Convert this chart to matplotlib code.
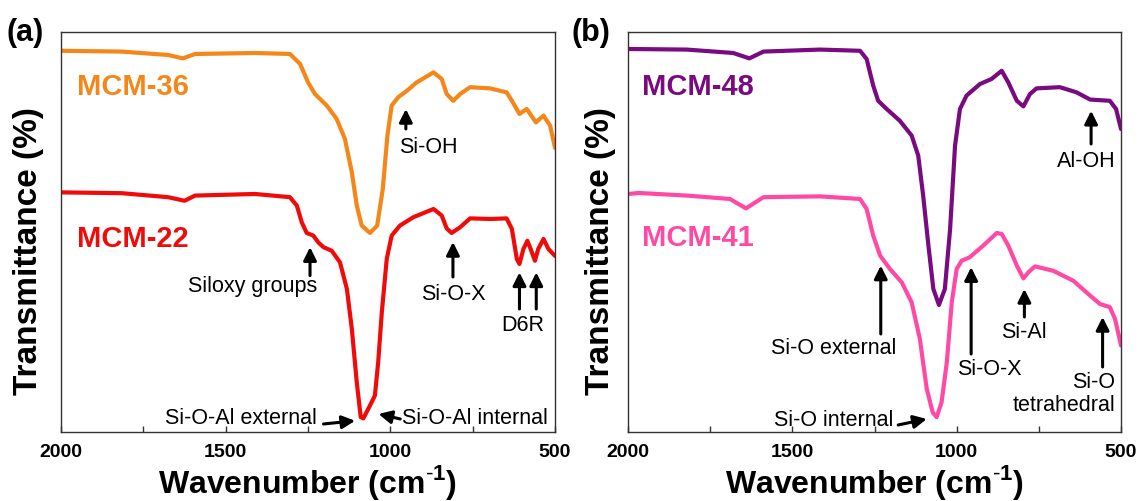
import matplotlib
matplotlib.use("Agg")
import matplotlib.pyplot as plt

plt.rcParams['font.family'] = ['Liberation Sans', 'DejaVu Sans']
plt.rcParams['mathtext.fontset'] = 'custom'
plt.rcParams['mathtext.rm'] = 'Liberation Sans'
plt.rcParams['mathtext.bf'] = 'Liberation Sans:bold'

# panel (a) spectra (wavenumber in cm-1, transmittance a.u.)
mcm36_wn = [2000, 1816, 1675, 1630, 1593, 1411, 1305, 1274, 1250, 1229, 1193, 1163, 1138, 1117,
            1102, 1087, 1062, 1040, 1023, 1009, 996, 976, 950, 920, 869, 844, 829, 809, 788, 758,
            697, 647, 631, 608, 586, 558, 535, 515, 500]
mcm36_t = [95.3, 95.1, 94.25, 93.4, 94.5, 94.75, 94.5, 92.0, 87.4, 84.5, 81.6, 78.25, 73.25, 64.9,
           56.6, 51.6, 49.75, 51.6, 60.75, 74.1, 81.6, 83.7, 85.3, 87.4, 89.9, 88.25, 84.5, 82.8,
           84.5, 86.2, 85.9, 84.9, 82.8, 79.5, 80.75, 77.4, 79.1, 76.6, 71.0]

mcm22_wn = [2000, 1816, 1675, 1625, 1593, 1411, 1305, 1284, 1269, 1254, 1234, 1219, 1203, 1178,
            1153, 1132, 1117, 1102, 1090, 1082, 1062, 1047, 1037, 1026, 1011, 996, 971, 930, 869,
            844, 829, 814, 788, 758, 697, 647, 631, 616, 608, 596, 584, 574, 561, 551, 535, 520, 500]
mcm22_t = [59.9, 59.7, 58.7, 57.8, 59.1, 59.5, 58.7, 56.6, 52.4, 49.75, 49.1, 47.4, 46.2, 45.3,
           42.4, 35.75, 25.75, 12.4, 3.7, 3.4, 6.6, 9.1, 17.4, 29.9, 43.25, 49.1, 51.6, 53.7, 55.75,
           54.1, 50.9, 49.75, 51.2, 53.4, 53.25, 53.4, 50.75, 43.25, 42.0, 45.75, 47.8, 45.75, 42.8,
           45.75, 48.25, 45.75, 44.0]

# panel (b) spectra
mcm48_wn = [2000, 1821, 1680, 1631, 1588, 1416, 1294, 1274, 1254, 1239, 1213, 1173, 1137, 1117,
            1102, 1086, 1071, 1054, 1036, 1020, 1005, 990, 970, 929, 894, 863, 843, 817, 797, 777,
            757, 686, 635, 594, 534, 515, 500]
mcm48_t = [95.75, 95.6, 94.75, 93.4, 95.1, 95.6, 95.3, 93.25, 86.6, 82.8, 80.75, 77.8, 74.1, 69.1,
           59.1, 46.6, 35.75, 31.75, 35.75, 50.75, 71.6, 80.75, 84.1, 87.0, 88.25, 90.3, 87.4, 82.8,
           81.4, 84.5, 85.9, 86.2, 84.9, 83.1, 82.8, 80.75, 75.75]

mcm41_wn = [2000, 1968, 1821, 1690, 1641, 1588, 1416, 1294, 1274, 1254, 1233, 1203, 1167, 1137,
            1112, 1091, 1073, 1061, 1046, 1030, 1015, 1000, 985, 960, 919, 878, 863, 843, 817, 797,
            782, 762, 706, 645, 594, 564, 534, 518, 500]
mcm41_t = [59.5, 59.75, 59.1, 58.25, 55.9, 58.7, 58.9, 58.25, 55.75, 49.1, 44.1, 40.75, 37.4, 32.4,
           23.25, 10.75, 4.9, 3.7, 7.4, 17.4, 32.4, 40.75, 42.8, 43.7, 46.6, 49.75, 49.5, 46.6, 41.6,
           38.4, 39.9, 41.4, 40.3, 37.8, 34.1, 32.0, 31.2, 28.25, 21.6]

xticks = [2000, 1500, 1000, 500]
minor_ticks = [1750, 1250, 750]

fig = plt.figure(figsize=(11.39, 5.02), dpi=100)
ax1 = fig.add_axes([0.0536, 0.1375, 0.4337, 0.7968])
ax2 = fig.add_axes([0.5514, 0.1375, 0.4328, 0.7968])

line_kw = dict(lw=3.0, solid_joinstyle='round', solid_capstyle='round')
ax1.plot(mcm36_wn, mcm36_t, color='#F5871A', **line_kw)
ax1.plot(mcm22_wn, mcm22_t, color='#F00A0A', **line_kw)
ax2.plot(mcm48_wn, mcm48_t, color='#7A0A80', **line_kw)
ax2.plot(mcm41_wn, mcm41_t, color='#FF4AA5', **line_kw)

for ax in (ax1, ax2):
    ax.set_xlim(2000, 500)
    ax.set_ylim(0, 100)
    ax.set_xticks(xticks)
    ax.set_xticks(minor_ticks, minor=True)
    ax.set_yticks([])
    ax.tick_params(axis='x', which='both', direction='in', length=4, width=1, color='#333333',
                   pad=8, labelsize=14)
    for lab in ax.get_xticklabels():
        lab.set_fontweight('bold')
    for sp in ax.spines.values():
        sp.set_color('#333333')
        sp.set_linewidth(1.0)

# sample names
lab_kw = dict(fontsize=21, fontweight='bold', ha='left', va='center')
ax1.text(1952, 86.4, 'MCM-36', color='#F5871A', **lab_kw)
ax1.text(1952, 48.5, 'MCM-22', color='#F00A0A', **lab_kw)
ax2.text(1958, 86.4, 'MCM-48', color='#7A0A80', **lab_kw)
ax2.text(1958, 48.75, 'MCM-41', color='#FF4AA5', **lab_kw)

arr = dict(arrowstyle='-|>,head_length=0.6,head_width=0.3', lw=2.2, color='black',
           shrinkA=0, shrinkB=0, mutation_scale=13)
fs = 15.5


def arrow(ax, tail, head):
    ax.annotate('', xy=head, xytext=tail, arrowprops=arr)


# panel (a) band assignments
arrow(ax1, (953, 75.75), (953, 80.75))
ax1.text(885, 71.25, 'Si-OH', fontsize=fs, ha='center', va='center')
arrow(ax1, (1244, 39.1), (1244, 46.2))
ax1.text(1223, 36.5, 'Siloxy groups', fontsize=fs, ha='right', va='center')
arrow(ax1, (810, 38.75), (810, 47.5))
ax1.text(810, 34.5, 'Si-O-X', fontsize=fs, ha='center', va='center')
arrow(ax1, (608, 30.75), (608, 39.9))
arrow(ax1, (557, 30.75), (557, 39.9))
ax1.text(597, 26.75, 'D6R', fontsize=fs, ha='center', va='center')
ax1.text(1223, 3.5, 'Si-O-Al external', fontsize=fs, ha='right', va='center')
arrow(ax1, (1203, 2.0), (1107, 2.8))
ax1.text(965, 3.5, 'Si-O-Al internal', fontsize=fs, ha='left', va='center')
arrow(ax1, (970, 3.25), (1036, 4.5))

# panel (b) band assignments
arrow(ax2, (591, 72.0), (591, 80.3))
ax2.text(607, 67.75, 'Al-OH', fontsize=fs, ha='center', va='center')
arrow(ax2, (1231, 24.5), (1231, 41.6))
ax2.text(1182, 21.0, 'Si-O external', fontsize=fs, ha='right', va='center')
arrow(ax2, (956, 19.5), (956, 41.2))
ax2.text(902, 15.75, 'Si-O-X', fontsize=fs, ha='center', va='center')
arrow(ax2, (794, 28.75), (794, 35.75))
ax2.text(795, 25.0, 'Si-Al', fontsize=fs, ha='center', va='center')
arrow(ax2, (556, 16.25), (556, 28.75))
ax2.text(518, 9.75, 'Si-O\ntetrahedral', fontsize=fs, ha='right', va='center',
         multialignment='right', linespacing=1.15)
ax2.text(1194, 3.0, 'Si-O internal', fontsize=fs, ha='right', va='center')
arrow(ax2, (1178, 1.75), (1091, 3.25))

# axis titles and panel letters
fig.text(0.0246, 0.50, 'Transmittance (%)', rotation=90, fontsize=24, fontweight='bold',
         ha='center', va='center')
fig.text(0.527, 0.50, 'Transmittance (%)', rotation=90, fontsize=24, fontweight='bold',
         ha='center', va='center')
xl = r'Wavenumber (cm$^{\mathbf{\text{-}1}}$)'
fig.text(0.2704, 0.018, xl, fontsize=23, fontweight='bold', ha='center', va='baseline')
fig.text(0.7678, 0.018, xl, fontsize=23, fontweight='bold', ha='center', va='baseline')
fig.text(0.006, 0.934, '(a)', fontsize=22, fontweight='bold', ha='left', va='center')
fig.text(0.502, 0.934, '(b)', fontsize=22, fontweight='bold', ha='left', va='center')

plt.savefig('out.png', dpi=100)
